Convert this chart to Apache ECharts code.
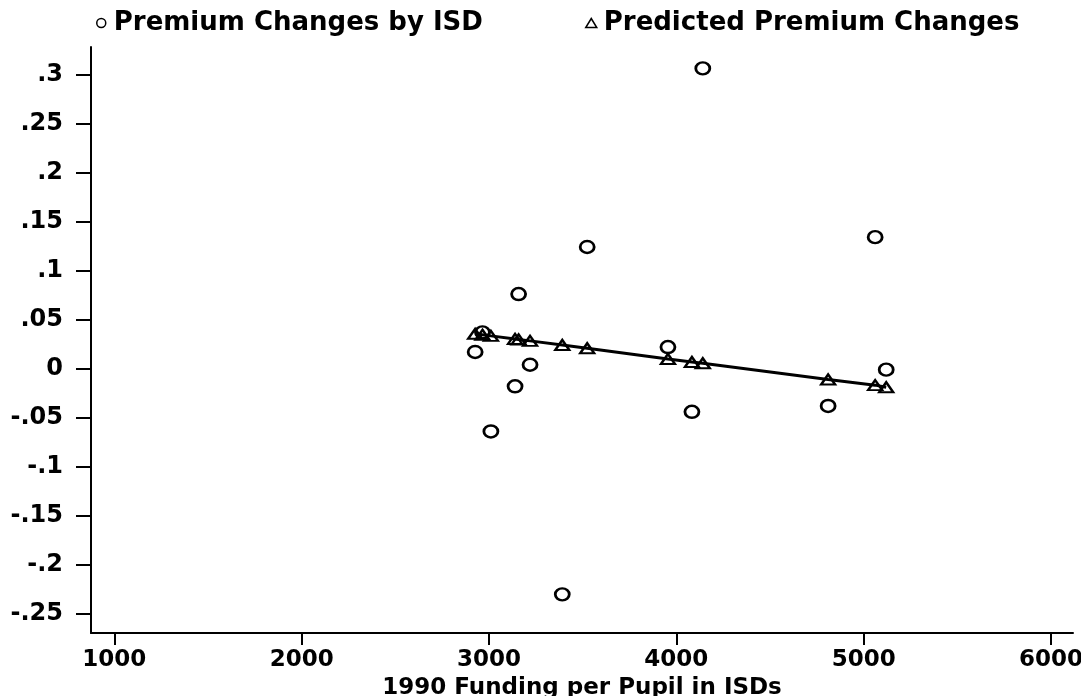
<!DOCTYPE html>
<html>
<head>
<meta charset="utf-8">
<script src="https://cdn.jsdelivr.net/npm/echarts@6/dist/echarts.min.js"></script>
<style>
html,body{margin:0;padding:0;background:#fff;}
#chart{width:1081px;height:696px;}
</style>
</head>
<body>
<div id="chart"></div>
<script>
// ---- data ----
const fundingX = [2926, 2965, 3010, 3139, 3158, 3219, 3391, 3524, 3955, 4083, 4141, 4810, 5061, 5120];
const premiumChange = [0.017, 0.037, -0.064, -0.018, 0.076, 0.004, -0.230, 0.124, 0.022, -0.044, 0.306, -0.038, 0.134, -0.001];
const predictedChange = [0.0355, 0.0345, 0.0334, 0.0303, 0.0298, 0.0283, 0.0241, 0.0208, 0.0098, 0.0068, 0.0055, -0.0110, -0.0168, -0.0190];
const xTicks = [1000, 2000, 3000, 4000, 5000, 6000];
const yTicks = [-0.25, -0.2, -0.15, -0.1, -0.05, 0, 0.05, 0.1, 0.15, 0.2, 0.25, 0.3];
const seriesNames = ['Premium Changes by ISD', 'Predicted Premium Changes'];
const xTitle = '1990 Funding per Pupil in ISDs';

const FONT = 'DejaVu Sans';
const obsData = fundingX.map((x, i) => [x, premiumChange[i]]);
const predData = fundingX.map((x, i) => [x, predictedChange[i]]);

function fmtY(v) {
  const s = String(Math.round(v * 100) / 100);
  return s.replace(/^(-?)0\./, '$1.');
}
function fmtX(v) { return String(Math.round(v)); }

const chart = echarts.init(document.getElementById('chart'), null, { renderer: 'canvas' });
chart.setOption({
  animation: false,
  backgroundColor: '#fff',
  textStyle: { fontFamily: FONT, fontWeight: 'bold', color: '#000' },
  grid: { left: 91, right: 8, top: 47, bottom: 63, containLabel: false, outerBoundsMode: 'none' },
  legend: [
    {
      data: [seriesNames[0]], left: 91, top: 5, itemWidth: 9, itemHeight: 9, itemGap: 0,
      textStyle: { fontFamily: FONT, fontWeight: 'bold', color: '#000', fontSize: 26, padding: [0, 0, 0, 3] },
      itemStyle: { color: '#fff', borderColor: '#000', borderWidth: 1.5, opacity: 1 }
    },
    {
      data: [seriesNames[1]], left: 580, top: 5, itemWidth: 11, itemHeight: 9, itemGap: 0,
      textStyle: { fontFamily: FONT, fontWeight: 'bold', color: '#000', fontSize: 26, padding: [0, 0, 0, 2] },
      itemStyle: { color: '#fff', borderColor: '#000', borderWidth: 1.5, opacity: 1 }
    }
  ],
  xAxis: {
    type: 'value', min: 875.6, max: 6117,
    axisLine: { show: true, onZero: false, lineStyle: { color: '#000', width: 2 } },
    axisTick: { show: true, customValues: xTicks, length: 12, lineStyle: { color: '#000', width: 2 } },
    axisLabel: { customValues: xTicks, margin: 16, formatter: fmtX, fontFamily: FONT, fontWeight: 'bold', color: '#000', fontSize: 23 },
    splitLine: { show: false },
    name: xTitle, nameLocation: 'middle', nameGap: 41,
    nameTextStyle: { fontFamily: FONT, fontWeight: 'bold', color: '#000', fontSize: 23 }
  },
  yAxis: {
    type: 'value', min: -0.2694, max: 0.3278,
    axisLine: { show: true, onZero: false, lineStyle: { color: '#000', width: 2 } },
    axisTick: { show: true, customValues: yTicks, length: 15, lineStyle: { color: '#000', width: 2 } },
    axisLabel: { customValues: yTicks, margin: 28, formatter: fmtY, fontFamily: FONT, fontWeight: 'bold', color: '#000', fontSize: 24 },
    splitLine: { show: false }
  },
  series: [
    {
      name: 'fit', type: 'line', data: predData, symbol: 'none', silent: true,
      lineStyle: { color: '#000', width: 3, opacity: 1 }, z: 1
    },
    {
      name: seriesNames[0], type: 'scatter', data: obsData, symbol: 'circle', symbolSize: [14, 12],
      itemStyle: { color: 'rgba(255,255,255,0)', borderColor: '#000', borderWidth: 2.6, opacity: 1 }, z: 3
    },
    {
      name: seriesNames[1], type: 'scatter', data: predData, symbol: 'triangle', symbolSize: [14, 10],
      itemStyle: { color: 'rgba(255,255,255,0)', borderColor: '#000', borderWidth: 2.3, opacity: 1 }, z: 2
    }
  ]
});
</script>
</body>
</html>
